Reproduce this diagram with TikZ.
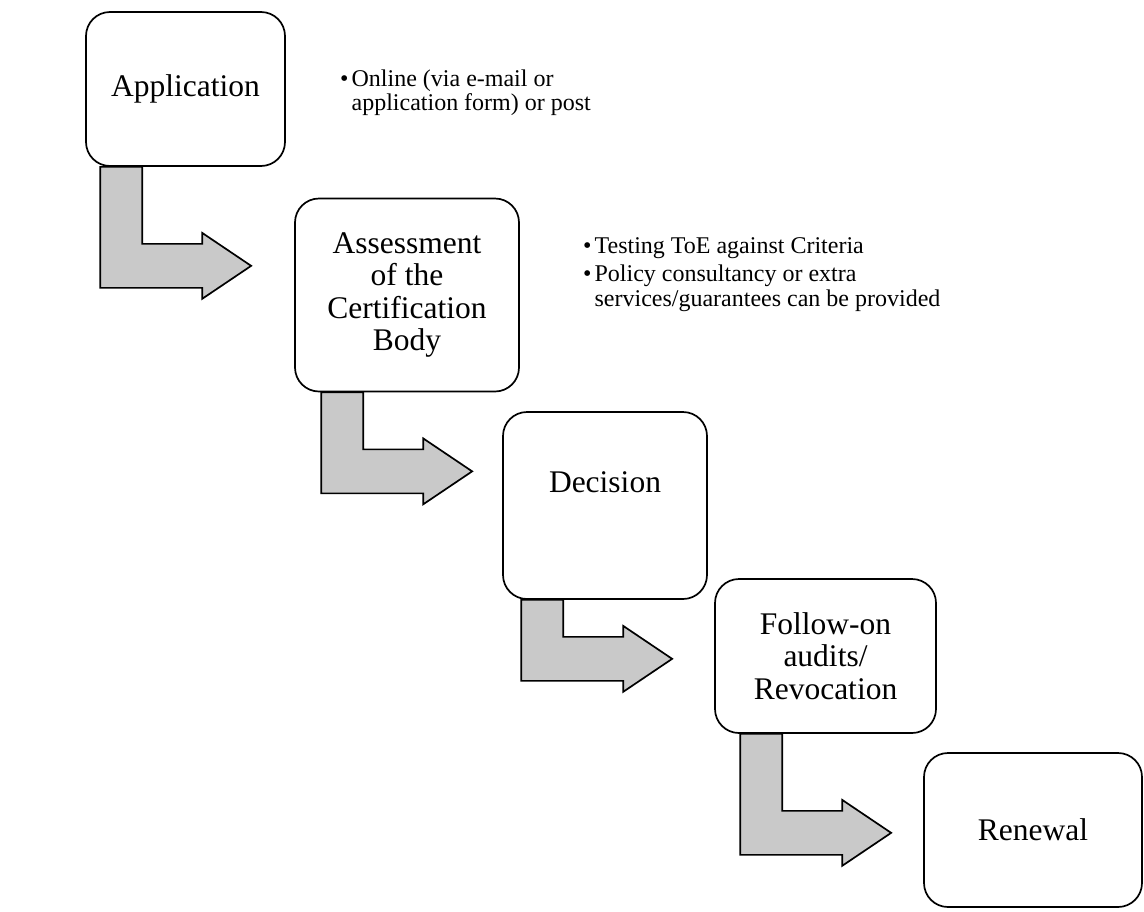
\documentclass[tikz,border=0pt]{standalone}
\usepackage{fontspec}
\setmainfont{Liberation Serif}

\begin{document}
\begin{tikzpicture}[x=1pt,y=-1pt,
    stage/.style={draw, line width=1.7pt, rounded corners=24pt, fill=white,
      align=center, inner sep=0pt, font=\fontsize{31.5}{32.5}\selectfont},
    bent/.style={draw, line width=1.7pt, fill=black!21, line join=miter},
    notes/.style={anchor=base west, inner sep=0pt, font=\fontsize{24}{24.5}\selectfont}]
  \useasboundingbox (0,0) rectangle (1144,911);

  % Draw the stages
  \node[stage, minimum width=199pt, minimum height=154pt] (app) at (185.5,89) {Application};
  \node[stage, minimum width=224pt, minimum height=193pt] (ass) at (407,295)
    {Assessment\\of the\\Certification\\Body};
  \node[stage, minimum width=204pt, minimum height=187pt, text height=22pt, text depth=48pt]
    (dec) at (605,505.5) {Decision};
  \node[stage, minimum width=221pt, minimum height=154pt] (fol) at (825.5,656)
    {Follow-on\\audits/\\Revocation};
  \node[stage, minimum width=218pt, minimum height=154pt] (ren) at (1033,830) {Renewal};

  % Draw the bent arrows between the stages
  \foreach \src/\dx/\d in {app/15/99, ass/27/79, dec/19/59, fol/26/99} {
    \draw[bent] ([xshift=\dx pt]\src.south west) -- ++(0,\d+22) -- ++(102,0) -- ++(0,11)
      -- ++(49,-33) -- ++(-49,-33) -- ++(0,11) -- ++(-60,0) -- ++(0,22-\d) -- cycle;
  }

  % Add the notes
  \node[notes] (appnote) at (340,86) {\begin{tabular}[t]{@{}l@{\hspace{3pt}}l@{}}
    \textbullet & Online (via e-mail or\\
                & application form) or post
  \end{tabular}};
  \node[notes] (assnote) at (583,253) {\begin{tabular}[t]{@{}l@{\hspace{3pt}}l@{}}
    \textbullet & Testing ToE against Criteria\\[4pt]
    \textbullet & Policy consultancy or extra\\
                & services/guarantees can be provided
  \end{tabular}};
\end{tikzpicture}
\end{document}
